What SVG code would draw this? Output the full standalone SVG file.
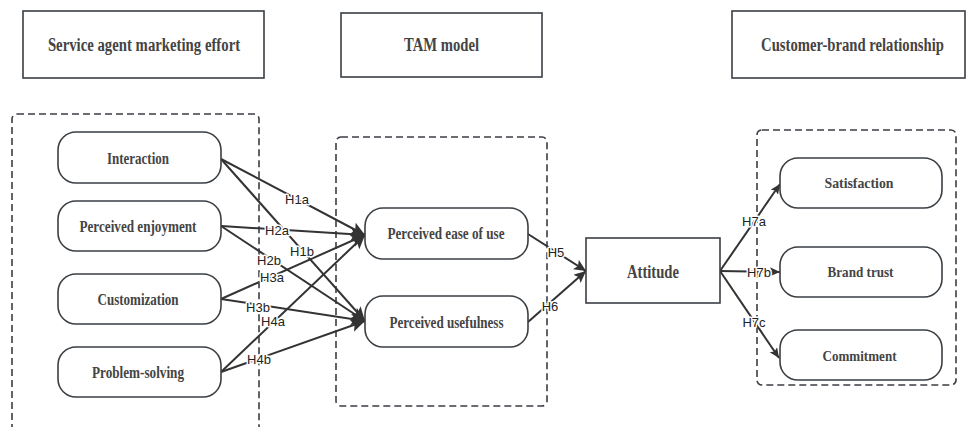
<svg xmlns="http://www.w3.org/2000/svg" width="966" height="427" viewBox="0 0 966 427">
<style>
.hdr{fill:#fff;stroke:#3a3f44;stroke-width:1.6}
.cont{fill:none;stroke:#3a3f44;stroke-width:1.6;stroke-dasharray:7 4}
.node{fill:#fff;stroke:#3a3f44;stroke-width:1.6}
.t{font-family:"Liberation Serif","Times New Roman",serif;font-weight:bold;fill:#444;text-anchor:middle}
.edge{stroke:#333;stroke-width:2;fill:none}
.lbl{font-family:"Liberation Sans",Arial,sans-serif;font-size:13px;fill:#222;text-anchor:middle;stroke:#fff;stroke-width:3;paint-order:stroke;stroke-linejoin:round}
</style>
<defs>
<marker id="big" markerUnits="userSpaceOnUse" markerWidth="16" markerHeight="14" refX="14" refY="6.5" orient="auto"><path d="M0,0 L14,6.5 L0,13 L3,6.5 z" fill="#333"/></marker>
<marker id="mid" markerUnits="userSpaceOnUse" markerWidth="14" markerHeight="12" refX="12" refY="5.5" orient="auto"><path d="M0,0 L12,5.5 L0,11 L2.5,5.5 z" fill="#333"/></marker>
<marker id="sm" markerUnits="userSpaceOnUse" markerWidth="12" markerHeight="10" refX="10" refY="4.5" orient="auto"><path d="M0,0 L10,4.5 L0,9 L2,4.5 z" fill="#333"/></marker>
</defs>
<rect width="966" height="427" fill="#fff"/>

<g id="hdr-service">
<rect class="hdr" x="23" y="11" width="241" height="67"/>
<text class="t" transform="translate(144,51) scale(0.72,1)" x="0" y="0" font-size="19" textLength="267" lengthAdjust="spacingAndGlyphs">Service agent marketing effort</text>
</g>
<g id="hdr-tam">
<rect class="hdr" x="341" y="13" width="201" height="64"/>
<text class="t" transform="translate(441.5,51) scale(0.72,1)" x="0" y="0" font-size="19" textLength="104" lengthAdjust="spacingAndGlyphs">TAM model</text>
</g>
<g id="hdr-cbr">
<rect class="hdr" x="732" y="11" width="233" height="67"/>
<text class="t" transform="translate(852.5,51) scale(0.72,1)" x="0" y="0" font-size="19" textLength="254" lengthAdjust="spacingAndGlyphs">Customer-brand relationship</text>
</g>

<g id="containers">
<rect class="cont" x="12" y="114" width="247" height="330" rx="5"/>
<rect class="cont" x="336" y="137" width="211" height="269" rx="5"/>
<rect class="cont" x="757" y="130" width="199" height="255" rx="5"/>
</g>

<g id="connectors">
<line class="edge" x1="221" y1="159" x2="365" y2="235" marker-end="url(#big)"/>
<line class="edge" x1="221" y1="159" x2="365" y2="321" marker-end="url(#big)"/>
<line class="edge" x1="221" y1="226" x2="365" y2="235" marker-end="url(#big)"/>
<line class="edge" x1="221" y1="226" x2="365" y2="321" marker-end="url(#big)"/>
<line class="edge" x1="221" y1="299" x2="365" y2="235" marker-end="url(#big)"/>
<line class="edge" x1="221" y1="299" x2="365" y2="321" marker-end="url(#big)"/>
<line class="edge" x1="221" y1="372" x2="365" y2="235" marker-end="url(#big)"/>
<line class="edge" x1="221" y1="372" x2="365" y2="321" marker-end="url(#big)"/>
<line class="edge" x1="528" y1="234" x2="586" y2="271" marker-end="url(#mid)"/>
<line class="edge" x1="528" y1="322" x2="586" y2="271" marker-end="url(#mid)"/>
<line class="edge" x1="720" y1="271" x2="780" y2="184" marker-end="url(#sm)"/>
<line class="edge" x1="720" y1="271" x2="780" y2="272" marker-end="url(#sm)"/>
<line class="edge" x1="720" y1="271" x2="779" y2="358" marker-end="url(#sm)"/>
<text class="lbl" x="297" y="204">H1a</text>
<text class="lbl" x="302" y="256">H1b</text>
<text class="lbl" x="277" y="235">H2a</text>
<text class="lbl" x="269" y="265">H2b</text>
<text class="lbl" x="272" y="282">H3a</text>
<text class="lbl" x="258" y="312">H3b</text>
<text class="lbl" x="273" y="326">H4a</text>
<text class="lbl" x="259" y="364">H4b</text>
<text class="lbl" x="556" y="257">H5</text>
<text class="lbl" x="550" y="311">H6</text>
<text class="lbl" x="754" y="226">H7a</text>
<text class="lbl" x="759" y="277">H7b</text>
<text class="lbl" x="754" y="327">H7c</text>
</g>

<g id="n-interaction">
<rect class="node" x="58" y="132" width="163" height="51" rx="18"/>
<text class="t" x="138" y="164" font-size="16" textLength="62" lengthAdjust="spacingAndGlyphs">Interaction</text>
</g>
<g id="n-enjoyment">
<rect class="node" x="58" y="201" width="163" height="50" rx="18"/>
<text class="t" x="138" y="232" font-size="16" textLength="117" lengthAdjust="spacingAndGlyphs">Perceived enjoyment</text>
</g>
<g id="n-customization">
<rect class="node" x="58" y="274" width="163" height="50" rx="18"/>
<text class="t" x="138" y="305" font-size="16" textLength="81" lengthAdjust="spacingAndGlyphs">Customization</text>
</g>
<g id="n-problem">
<rect class="node" x="58" y="347" width="163" height="50" rx="18"/>
<text class="t" x="138" y="378" font-size="16" textLength="92" lengthAdjust="spacingAndGlyphs">Problem-solving</text>
</g>
<g id="n-peou">
<rect class="node" x="365" y="208" width="163" height="51" rx="18"/>
<text class="t" x="446" y="239" font-size="16" textLength="117" lengthAdjust="spacingAndGlyphs">Perceived ease of use</text>
</g>
<g id="n-pu">
<rect class="node" x="365" y="296" width="163" height="51" rx="18"/>
<text class="t" x="446.5" y="328" font-size="16" textLength="114" lengthAdjust="spacingAndGlyphs">Perceived usefulness</text>
</g>
<g id="n-attitude">
<rect class="node" x="586" y="238" width="134" height="65"/>
<text class="t" x="653" y="278" font-size="19" textLength="52" lengthAdjust="spacingAndGlyphs">Attitude</text>
</g>
<g id="n-satisfaction">
<rect class="node" x="780" y="158" width="162" height="50" rx="18"/>
<text class="t" x="859" y="188" font-size="15" textLength="69" lengthAdjust="spacingAndGlyphs">Satisfaction</text>
</g>
<g id="n-trust">
<rect class="node" x="780" y="247" width="162" height="50" rx="18"/>
<text class="t" x="860.5" y="277" font-size="15" textLength="66" lengthAdjust="spacingAndGlyphs">Brand trust</text>
</g>
<g id="n-commitment">
<rect class="node" x="780" y="330" width="162" height="50" rx="18"/>
<text class="t" x="859.5" y="361" font-size="15" textLength="74" lengthAdjust="spacingAndGlyphs">Commitment</text>
</g>
</svg>
